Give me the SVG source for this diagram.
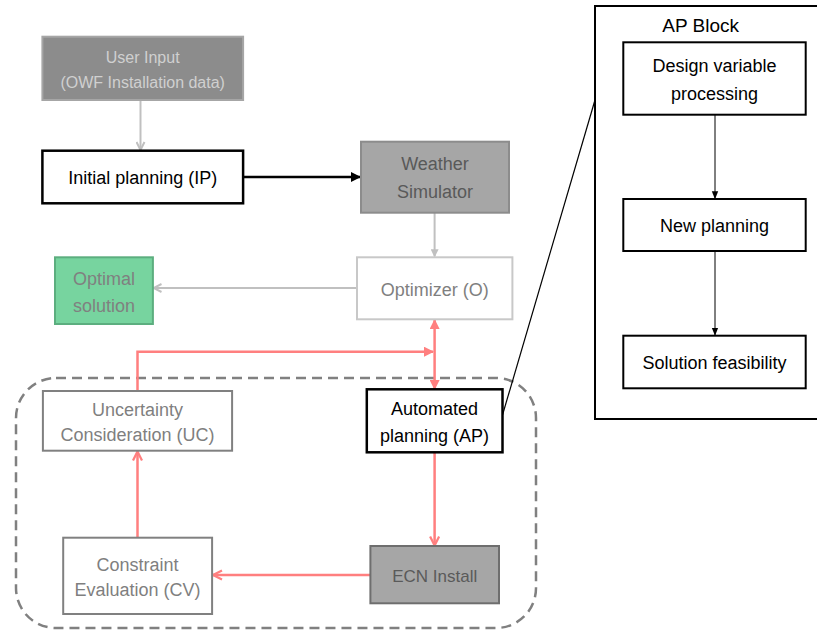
<svg xmlns="http://www.w3.org/2000/svg" width="817" height="630" viewBox="0 0 817 630">
<style>
text{font-family:"Liberation Sans",Arial,sans-serif;font-size:18px;text-anchor:middle;dominant-baseline:central}
.g{stroke:#c0c0c0;stroke-width:2;fill:none}
.r{stroke:#ff7f7f;stroke-width:2.5;fill:none}
.k{stroke:#000;fill:none}
</style>
<defs>
<marker id="ag" viewBox="0 0 10 10" refX="9" refY="5" markerWidth="5" markerHeight="5" orient="auto" markerUnits="strokeWidth"><path d="M1,1 L9,5 L1,9" fill="none" stroke="#c0c0c0" stroke-width="2"/></marker>
<marker id="agt" viewBox="0 0 10 10" refX="9" refY="5" markerWidth="4" markerHeight="4" orient="auto" markerUnits="strokeWidth"><path d="M0,0 L10,5 L0,10 z" fill="#c0c0c0"/></marker>
<marker id="ak" viewBox="0 0 10 10" refX="9" refY="5" markerWidth="4" markerHeight="4" orient="auto" markerUnits="strokeWidth"><path d="M0,0 L10,5 L0,10 z" fill="#000"/></marker>
<marker id="akt" viewBox="0 0 10 10" refX="9" refY="5" markerWidth="8" markerHeight="8" orient="auto" markerUnits="strokeWidth"><path d="M0,1 L10,5 L0,9 z" fill="#000"/></marker>
<marker id="ar" viewBox="0 0 10 10" refX="9" refY="5" markerWidth="4" markerHeight="4" orient="auto" markerUnits="strokeWidth"><path d="M0,0 L10,5 L0,10 z" fill="#ff7f7f"/></marker>
<marker id="arv" viewBox="0 0 10 10" refX="9" refY="5" markerWidth="4.5" markerHeight="4.5" orient="auto" markerUnits="strokeWidth"><path d="M1,1 L9,5 L1,9" fill="none" stroke="#ff7f7f" stroke-width="2"/></marker>
</defs>
<rect width="817" height="630" fill="#fff"/>
<g id="group-loop"><rect x="16" y="378" width="520" height="250" rx="40" ry="40" fill="none" stroke="#808080" stroke-width="2.5" stroke-dasharray="10,6"/></g>
<g id="connectors">
<line class="g" x1="140.5" y1="100" x2="140.5" y2="150" marker-end="url(#ag)"/>
<line class="k" stroke-width="2.5" x1="243" y1="177" x2="360" y2="177" marker-end="url(#ak)"/>
<line class="g" x1="434.6" y1="213" x2="434.6" y2="256.5" marker-end="url(#agt)"/>
<line class="g" x1="357" y1="288" x2="153.5" y2="288" marker-end="url(#ag)"/>
<line class="r" x1="434.6" y1="352" x2="434.6" y2="320" marker-end="url(#ar)"/>
<line class="r" x1="434.6" y1="352" x2="434.6" y2="389" marker-end="url(#ar)"/>
<polyline class="r" points="137.5,391 137.5,351.7 433,351.7" marker-end="url(#ar)"/>
<line class="r" x1="434.6" y1="452.5" x2="434.6" y2="545.5" marker-end="url(#arv)"/>
<line class="r" x1="370.4" y1="575" x2="213" y2="575" marker-end="url(#arv)"/>
<line class="r" x1="137.5" y1="537.7" x2="137.5" y2="451.5" marker-end="url(#arv)"/>
<line class="k" stroke-width="1.2" x1="502.5" y1="415" x2="595" y2="100"/>
<line class="k" stroke-width="1" x1="715" y1="114.7" x2="715" y2="198.5" marker-end="url(#akt)"/>
<line class="k" stroke-width="1" x1="715" y1="251" x2="715" y2="335" marker-end="url(#akt)"/>
</g>
<g id="user-input"><rect x="42.4" y="36.7" width="200.7" height="63.3" fill="#8c8c8c" stroke="#a6a6a6" stroke-width="2"/><text x="142.7" y="57" style="font-size:16px" fill="#d0d0d0">User Input</text><text x="142.7" y="82" style="font-size:16px" fill="#d0d0d0">(OWF Installation data)</text></g>
<g id="initial-planning"><rect x="42.4" y="150.7" width="200.7" height="52.6" fill="#fff" stroke="#000" stroke-width="2.5"/><text x="142.7" y="178">Initial planning (IP)</text></g>
<g id="weather-simulator"><rect x="361" y="141.7" width="148" height="71" fill="#a6a6a6" stroke="#8c8c8c" stroke-width="2"/><text x="435" y="164" fill="#595959">Weather</text><text x="435" y="192" fill="#595959">Simulator</text></g>
<g id="optimizer"><rect x="357" y="257.3" width="155.4" height="62" fill="#fff" stroke="#c8c8c8" stroke-width="2"/><text x="434.7" y="289.5" fill="#7f7f7f">Optimizer (O)</text></g>
<g id="optimal-solution"><rect x="55" y="257.3" width="97.9" height="66.7" fill="#77d49f" stroke="#5cae7f" stroke-width="2"/><text x="104" y="278.5" fill="#808080">Optimal</text><text x="104" y="306" fill="#808080">solution</text></g>
<g id="uncertainty"><rect x="42.9" y="391" width="189.2" height="59.7" fill="#fff" stroke="#808080" stroke-width="2"/><text x="137.5" y="410" fill="#7f7f7f">Uncertainty</text><text x="137.5" y="434.5" fill="#7f7f7f">Consideration (UC)</text></g>
<g id="automated-planning"><rect x="366.8" y="389.3" width="135.7" height="63" fill="#fff" stroke="#000" stroke-width="2.5"/><text x="434.6" y="408.5">Automated</text><text x="434.6" y="436">planning (AP)</text></g>
<g id="ecn-install"><rect x="370.4" y="546" width="128.6" height="57.3" fill="#a6a6a6" stroke="#6e6e6e" stroke-width="2"/><text x="434.7" y="576" style="font-size:17px" fill="#5a5a5a">ECN Install</text></g>
<g id="constraint"><rect x="63.2" y="537.7" width="148.9" height="76.3" fill="#fff" stroke="#808080" stroke-width="2"/><text x="137.6" y="565" fill="#7f7f7f">Constraint</text><text x="137.6" y="589.5" fill="#7f7f7f">Evaluation (CV)</text></g>
<g id="ap-block"><rect x="595" y="6" width="225" height="413" fill="none" stroke="#000" stroke-width="2"/><text x="700.7" y="25" style="font-size:19px">AP Block</text></g>
<g id="design-variable"><rect x="623.3" y="42.3" width="182.4" height="72.4" fill="#fff" stroke="#000" stroke-width="2"/><text x="714.5" y="66">Design variable</text><text x="714.5" y="93.5">processing</text></g>
<g id="new-planning"><rect x="623.3" y="199" width="182.4" height="52" fill="#fff" stroke="#000" stroke-width="2"/><text x="714.5" y="226">New planning</text></g>
<g id="solution-feasibility"><rect x="623.3" y="335.7" width="182.4" height="52.6" fill="#fff" stroke="#000" stroke-width="2"/><text x="714.5" y="362.7">Solution feasibility</text></g>
</svg>
